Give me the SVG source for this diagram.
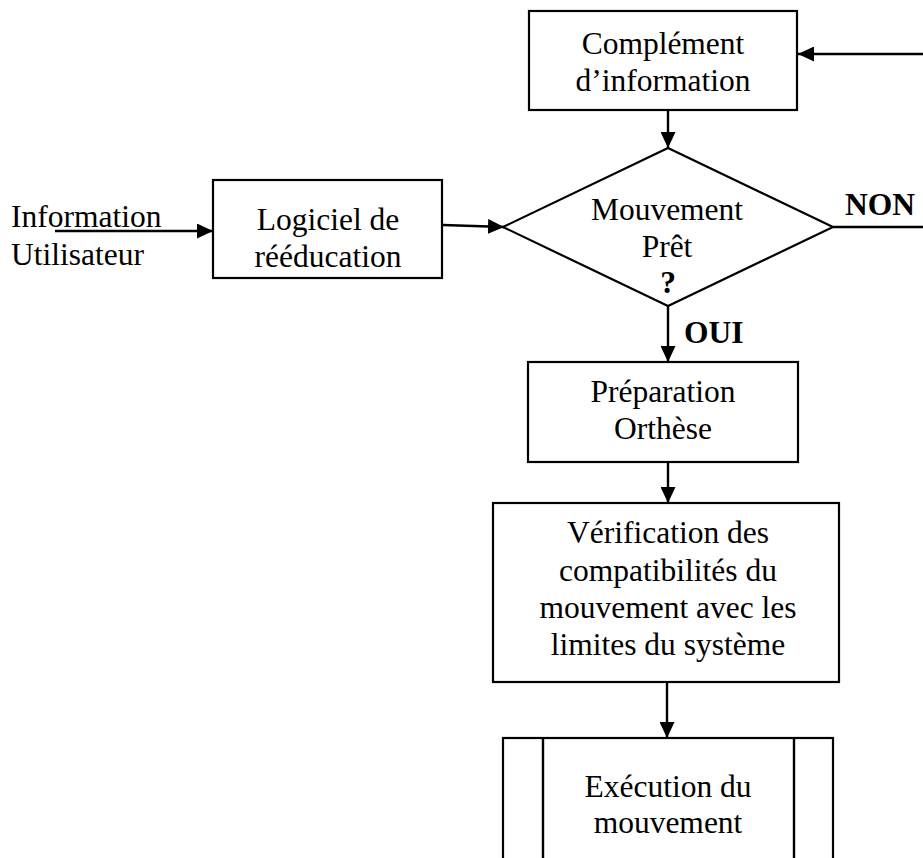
<svg xmlns="http://www.w3.org/2000/svg" width="923" height="858" viewBox="0 0 923 858">
<style>
.box{fill:#fff;stroke:#000;stroke-width:2.2}
.t{font-family:"Liberation Serif","Times New Roman",serif;font-size:31.5px;fill:#000;text-anchor:middle}
.l{text-anchor:start}
.b{font-weight:bold}
.c{fill:none;stroke:#000;stroke-width:2.4}
</style>
<defs>
<marker id="ah" viewBox="0 0 16 15" refX="16" refY="7.5" markerWidth="16" markerHeight="15" markerUnits="userSpaceOnUse" orient="auto">
<path d="M0,0 L16,7.5 L0,15 Z" fill="#000"/>
</marker>
</defs>
<rect width="923" height="858" fill="#fff"/>
<g id="connectors">
<line class="c" x1="923" y1="54" x2="798" y2="54" marker-end="url(#ah)"/>
<line class="c" x1="668" y1="111" x2="668" y2="148" marker-end="url(#ah)"/>
<line class="c" x1="55" y1="231" x2="213" y2="231" marker-end="url(#ah)"/>
<line class="c" x1="443" y1="225" x2="504" y2="227" marker-end="url(#ah)"/>
<line class="c" x1="833" y1="227" x2="923" y2="227"/>
<line class="c" x1="668" y1="306" x2="668" y2="362" marker-end="url(#ah)"/>
<line class="c" x1="668" y1="462" x2="668" y2="503" marker-end="url(#ah)"/>
<line class="c" x1="667" y1="682" x2="667" y2="738" marker-end="url(#ah)"/>
</g>
<g id="input-label">
<text class="t l" x="11" y="227">Information</text>
<text class="t l" x="11" y="265">Utilisateur</text>
</g>
<g id="complement">
<rect class="box" x="529" y="11" width="268" height="99"/>
<text class="t" x="663" y="54">Complément</text>
<text class="t" x="663" y="91">d’information</text>
</g>
<g id="logiciel">
<rect class="box" x="213" y="180" width="229" height="98"/>
<text class="t" x="328" y="230">Logiciel de</text>
<text class="t" x="328" y="267">rééducation</text>
</g>
<g id="decision">
<polygon class="box" points="668,148 833,227 668,306 503,227"/>
<text class="t" x="667" y="220">Mouvement</text>
<text class="t" x="667" y="257">Prêt</text>
<text class="t b" x="668" y="293">?</text>
</g>
<g id="non-label"><text class="t b l" x="845" y="215">NON</text></g>
<g id="oui-label"><text class="t b l" x="684" y="343">OUI</text></g>
<g id="preparation">
<rect class="box" x="528" y="362" width="270" height="100"/>
<text class="t" x="663" y="402">Préparation</text>
<text class="t" x="663" y="439">Orthèse</text>
</g>
<g id="verification">
<rect class="box" x="493" y="503" width="346" height="179"/>
<text class="t" x="668" y="543">Vérification des</text>
<text class="t" x="668" y="581">compatibilités du</text>
<text class="t" x="668" y="618">mouvement avec les</text>
<text class="t" x="668" y="655">limites du système</text>
</g>
<g id="execution">
<rect class="box" x="503" y="738" width="330" height="140"/>
<line class="c" x1="543" y1="738" x2="543" y2="878"/>
<line class="c" x1="794" y1="738" x2="794" y2="878"/>
<text class="t" x="668" y="797">Exécution du</text>
<text class="t" x="668" y="833">mouvement</text>
</g>
</svg>
